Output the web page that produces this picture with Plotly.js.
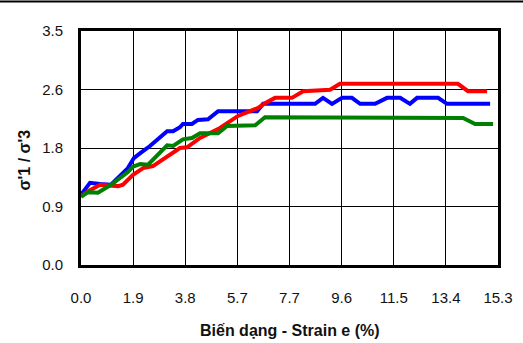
<!DOCTYPE html>
<html>
<head>
<meta charset="utf-8">
<script src="https://cdn.plot.ly/plotly-3.0.1.min.js"></script>
<style>html,body{margin:0;padding:0;background:#fff;}#chart{width:523px;height:343px;}</style>
</head>
<body>
<div id="chart"></div>
<script>
// Strain (%) and stress ratio sigma'1/sigma'3 for three specimens
const redStrain = [0, 0.33, 0.70, 1.36, 1.54, 1.91, 2.28, 2.64, 3.63, 3.89, 4.37, 4.84, 5.10, 5.76, 6.02, 6.50, 6.75, 7.12, 7.74, 8.15, 9.14, 9.50, 13.83, 14.20, 14.90];
const redRatio  = [1.03, 1.12, 1.20, 1.18, 1.20, 1.35, 1.45, 1.48, 1.75, 1.76, 1.90, 1.99, 2.05, 2.23, 2.27, 2.35, 2.42, 2.50, 2.50, 2.60, 2.62, 2.71, 2.71, 2.60, 2.60];

const blueStrain = [0, 0.33, 0.70, 1.10, 1.72, 1.94, 2.20, 2.53, 3.16, 3.38, 3.63, 3.74, 4.07, 4.29, 4.66, 5.03, 6.46, 6.68, 8.59, 8.88, 9.21, 9.58, 9.94, 10.24, 10.79, 11.23, 11.71, 12.07, 12.33, 13.10, 13.43, 15.01];
const blueRatio  = [1.05, 1.23, 1.21, 1.20, 1.45, 1.60, 1.68, 1.78, 2.00, 2.00, 2.06, 2.11, 2.11, 2.17, 2.18, 2.30, 2.30, 2.41, 2.41, 2.50, 2.41, 2.50, 2.50, 2.41, 2.41, 2.50, 2.50, 2.41, 2.50, 2.50, 2.41, 2.41];

const greenStrain = [0, 0.26, 0.62, 1.10, 1.72, 1.91, 2.17, 2.46, 3.16, 3.38, 3.74, 4.07, 4.37, 5.03, 5.36, 6.39, 6.75, 14.02, 14.46, 15.12];
const greenRatio  = [1.02, 1.09, 1.08, 1.20, 1.39, 1.47, 1.51, 1.50, 1.79, 1.78, 1.88, 1.90, 1.97, 1.97, 2.08, 2.09, 2.21, 2.20, 2.11, 2.11];

const xTickLabels = ['0.0', '1.9', '3.8', '5.7', '7.7', '9.6', '11.5', '13.4', '15.3'];
const yTickLabels = ['0.0', '0.9', '1.8', '2.6', '3.5'];
const xMax = 15.3;
const yMax = 3.5;

const xTickVals = xTickLabels.map((_, i) => i * xMax / (xTickLabels.length - 1));
const yTickVals = yTickLabels.map((_, i) => i * yMax / (yTickLabels.length - 1));

const FONT = '"Liberation Sans Narrow", "Arial Narrow", Arial, "Liberation Sans", sans-serif';

function line(x, y, color) {
  return {x: x, y: y, type: 'scatter', mode: 'lines', line: {color: color, width: 4}, hoverinfo: 'skip', showlegend: false};
}

const data = [
  line(blueStrain, blueRatio, '#0000ff'),
  line(redStrain, redRatio, '#ff0000'),
  line(greenStrain, greenRatio, '#008000')
];

const axisCommon = {
  showgrid: true, gridcolor: '#000', gridwidth: 1,
  showline: true, linecolor: '#000', linewidth: 3, mirror: true,
  zeroline: false, ticks: 'outside', tickcolor: 'rgba(0,0,0,0)',
  tickfont: {family: FONT, size: 15, color: '#111'}
};

const layout = {
  width: 523, height: 343,
  margin: {l: 81, r: 25, t: 31, b: 78},
  paper_bgcolor: '#fff', plot_bgcolor: '#fff',
  xaxis: Object.assign({}, axisCommon, {range: [0, xMax], tickmode: 'array', tickvals: xTickVals, ticktext: xTickLabels, ticklen: 17}),
  yaxis: Object.assign({}, axisCommon, {range: [0, yMax], tickmode: 'array', tickvals: yTickVals, ticktext: yTickLabels, ticklen: 12}),
  annotations: [
    {text: 'Biến dạng - Strain e (%)', xref: 'paper', yref: 'paper', x: 0.5, y: -0.278, xanchor: 'center', yanchor: 'middle', showarrow: false,
     font: {family: FONT, size: 16, color: '#111', weight: 'bold'}},
    {text: "σ'1 / σ'3", xref: 'paper', yref: 'paper', x: -0.135, y: 0.45, xanchor: 'center', yanchor: 'middle', textangle: -90, showarrow: false,
     font: {family: FONT, size: 16, color: '#111', weight: 'bold'}}
  ],
  shapes: [
    {type: 'line', xref: 'paper', yref: 'paper', x0: -0.2, x1: 1.1, y0: 1.126, y1: 1.126, line: {color: '#000', width: 2}}
  ]
};

Plotly.newPlot('chart', data, layout, {displayModeBar: false, staticPlot: true});
</script>
</body>
</html>
